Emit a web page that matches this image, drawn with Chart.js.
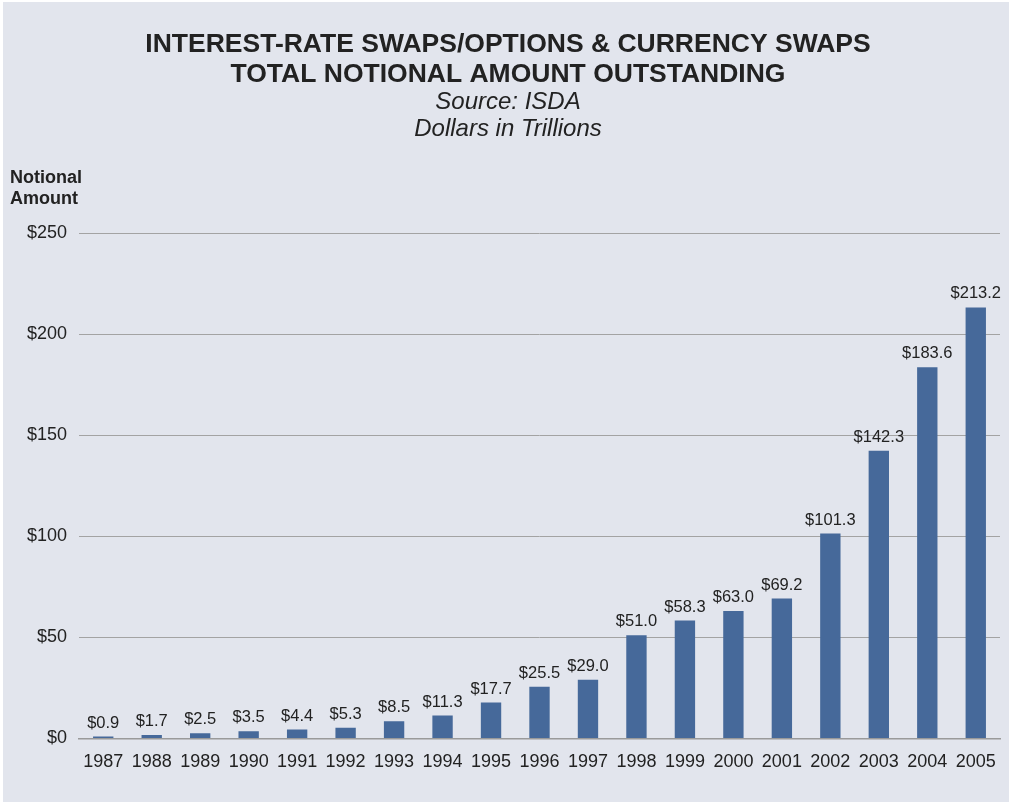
<!DOCTYPE html>
<html>
<head>
<meta charset="utf-8">
<script src="https://cdn.jsdelivr.net/npm/chart.js@4"></script>
<style>
  body { margin: 0; background: #ffffff; }
  #wrap { position: absolute; left: 3px; top: 2px; width: 1006px; height: 800px; background: #e2e5ed; }
</style>
</head>
<body>
<div id="wrap"><canvas id="swapChart" width="1006" height="800"></canvas></div>
<script>
// 数据
const years = ['1987','1988','1989','1990','1991','1992','1993','1994','1995','1996',
  '1997','1998','1999','2000','2001','2002','2003','2004','2005'];
const notional = [0.9, 1.7, 2.5, 3.5, 4.4, 5.3, 8.5, 11.3, 17.7, 25.5,
  29.0, 51.0, 58.3, 63.0, 69.2, 101.3, 142.3, 183.6, 213.2];
const yTicks = [0, 50, 100, 150, 200, 250];

const titleLines = ['INTEREST-RATE SWAPS/OPTIONS & CURRENCY SWAPS', 'TOTAL NOTIONAL AMOUNT OUTSTANDING'];
const subLines = ['Source: ISDA', 'Dollars in Trillions'];

const textColor = '#222222';
const fontName = '"Liberation Sans", Arial, sans-serif';

// 标题、轴标题与柱顶数值
const decorPlugin = {
  id: 'decor',
  afterDraw(chart) {
    const c = chart.ctx;
    c.save();
    c.fillStyle = textColor;
    c.textAlign = 'center';
    c.textBaseline = 'middle';
    c.font = 'bold 26.5px ' + fontName;
    c.fillText(titleLines[0], 505, 43);
    c.fillText(titleLines[1], 505, 73);
    c.font = 'italic 24px ' + fontName;
    c.fillText(subLines[0], 505, 100);
    c.fillText(subLines[1], 505, 127);

    c.textAlign = 'left';
    c.font = 'bold 18px ' + fontName;
    c.fillText('Notional', 7, 176);
    c.fillText('Amount', 7, 197);

    c.textAlign = 'center';
    c.textBaseline = 'alphabetic';
    c.font = '16.5px ' + fontName;
    const meta = chart.getDatasetMeta(0);
    meta.data.forEach((bar, i) => {
      c.fillText('$' + notional[i].toFixed(1), bar.x, bar.y - 9);
    });
    c.restore();
  }
};

const ctx = document.getElementById('swapChart').getContext('2d');
const swapChart = new Chart(ctx, {
  type: 'bar',
  data: {
    labels: years,
    datasets: [{
      data: notional,
      backgroundColor: '#46699a',
      barPercentage: 0.42,
      categoryPercentage: 1.0
    }]
  },
  options: {
    responsive: false,
    animation: false,
    layout: { padding: { top: 231, right: 8, bottom: 16, left: 0 } },
    plugins: {
      legend: { display: false },
      tooltip: { enabled: false }
    },
    scales: {
      x: {
        grid: { display: false, drawTicks: false },
        border: { color: '#9a9a9a', width: 1.5 },
        ticks: { color: textColor, font: { family: fontName, size: 18 }, padding: 13, maxRotation: 0, autoSkip: false }
      },
      y: {
        min: 0,
        max: 250,
        afterFit(scale) { scale.width = 76; },
        afterBuildTicks(scale) { scale.ticks = yTicks.map(v => ({ value: v })); },
        grid: { color: '#a3a3a3', lineWidth: 1, drawTicks: false },
        border: { display: false },
        ticks: {
          color: textColor,
          font: { family: fontName, size: 18 },
          padding: 12,
          callback: v => '$' + v
        }
      }
    }
  },
  plugins: [decorPlugin]
});
</script>
</body>
</html>
